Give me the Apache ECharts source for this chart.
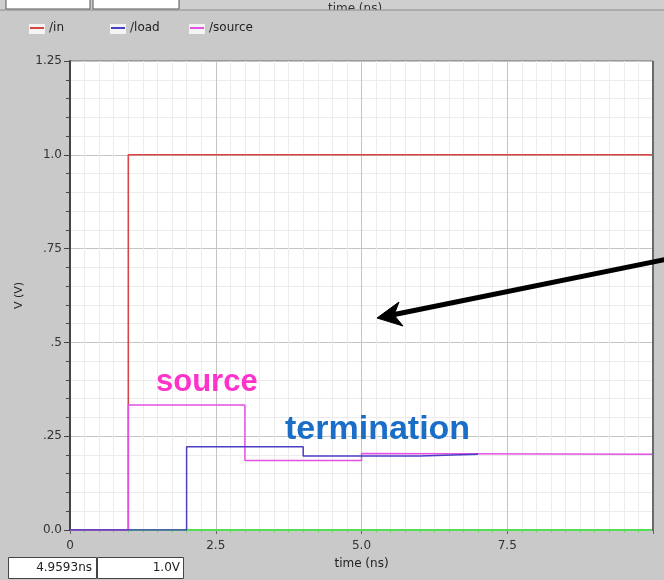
<!DOCTYPE html>
<html>
<head>
<meta charset="utf-8">
<script src="https://cdn.jsdelivr.net/npm/echarts@6/dist/echarts.min.js"></script>
<style>html,body{margin:0;padding:0;background:#c9c9c9;}#c{width:664px;height:580px;}</style>
</head>
<body>
<div id="c"></div>
<script>
// Signal data: [time (ns), voltage (V)] step waveforms
const inData = [[0, 0], [1.0, 0], [1.0, 1.0], [10, 1.0]];
const loadData = [[0, 0], [2.0, 0], [2.0, 0.222], [4.0, 0.222], [4.0, 0.197], [6.0, 0.197], [6.0, 0.202], [7.0, 0.202]];
const sourceData = [[0, 0], [1.0, 0], [1.0, 0.333], [3.0, 0.333], [3.0, 0.185], [5.0, 0.185], [5.0, 0.204], [10, 0.202]];
const groundData = [[0, 0], [10, 0]];
const seriesNames = ['/in', '/load', '/source'];
const yTicks = {0: '0.0', 0.25: '.25', 0.5: '.5', 0.75: '.75', 1: '1.0', 1.25: '1.25'};
const xTicks = {0: '0', 2.5: '2.5', 5: '5.0', 7.5: '7.5'};

const chart = echarts.init(document.getElementById('c'));
const font = 'DejaVu Sans';
const legendLefts = [30, 111, 190];
chart.setOption({
  backgroundColor: '#c9c9c9',
  animation: false,
  grid: {left: 70, right: 11, top: 61, bottom: 50, show: true, backgroundColor: '#ffffff', borderColor: '#6a6a6a', borderWidth: 1},
  legend: seriesNames.map((n, i) => ({
    left: legendLefts[i] - 5, top: 17, itemWidth: 14, itemHeight: 2, itemGap: 0,
    data: [{name: n, icon: 'rect'}],
    textStyle: {fontFamily: font, fontSize: 12, color: '#222'}
  })),
  xAxis: {
    type: 'value', min: 0, max: 10, interval: 2.5,
    name: 'time (ns)', nameLocation: 'middle', nameGap: 28,
    nameTextStyle: {fontFamily: font, fontSize: 12, color: '#222'},
    axisLine: {show: false},
    axisTick: {show: true, length: 4, lineStyle: {color: '#666'}},
    minorTick: {show: true, splitNumber: 10, length: 3, lineStyle: {color: '#8c8'}},
    axisLabel: {fontFamily: font, fontSize: 12, color: '#333', margin: 10,
      formatter: v => (xTicks[v] !== undefined ? xTicks[v] : '')},
    splitLine: {show: true, lineStyle: {color: '#c4c4c4', width: 1}},
    minorSplitLine: {show: true, lineStyle: {color: '#ececec', width: 1}}
  },
  yAxis: {
    type: 'value', min: 0, max: 1.25, interval: 0.25,
    name: 'V (V)', nameLocation: 'middle', nameGap: 44, nameRotate: 90,
    nameTextStyle: {fontFamily: font, fontSize: 11, color: '#222'},
    axisLine: {show: true, lineStyle: {color: '#444', width: 2}},
    axisTick: {show: true, length: 6, lineStyle: {color: '#444'}},
    minorTick: {show: true, splitNumber: 5, length: 4, lineStyle: {color: '#444'}},
    axisLabel: {fontFamily: font, fontSize: 12, color: '#333', margin: 8,
      formatter: v => (yTicks[v] !== undefined ? yTicks[v] : '')},
    splitLine: {show: true, lineStyle: {color: '#c4c4c4', width: 1}},
    minorSplitLine: {show: true, lineStyle: {color: '#ececec', width: 1}}
  },
  series: [
    {name: 'ground', type: 'line', data: groundData, showSymbol: false, lineStyle: {color: '#55dd55', width: 2}, z: 1},
    {name: '/in', type: 'line', data: inData, showSymbol: false, color: '#d94444', lineStyle: {color: '#d94444', width: 1.6}, z: 2},
    {name: '/source', type: 'line', data: sourceData, showSymbol: false, color: '#e452e4', lineStyle: {color: '#e452e4', width: 1.5}, z: 3},
    {name: '/load', type: 'line', data: loadData, showSymbol: false, color: '#4a3fc4', lineStyle: {color: '#4a3fc4', width: 1.5}, z: 4}
  ],
  graphic: [
    // legend icon backgrounds
    ...legendLefts.map(x => ({type: 'rect', shape: {x: x - 1, y: 24, width: 16, height: 10}, style: {fill: '#f4f4f4'}, z: 0})),
    // top cut-off strip
    {type: 'rect', shape: {x: 0, y: 0, width: 664, height: 10}, style: {fill: '#cfcfcf'}, z: 10},
    {type: 'rect', shape: {x: 6, y: -10, width: 84, height: 19}, style: {fill: '#ffffff', stroke: '#555', lineWidth: 1}, z: 11},
    {type: 'rect', shape: {x: 93, y: -10, width: 86, height: 19}, style: {fill: '#ffffff', stroke: '#555', lineWidth: 1}, z: 11},
    {type: 'text', x: 355, y: 9, style: {text: 'time (ns)', font: '12px "DejaVu Sans"', fill: '#333', align: 'center', verticalAlign: 'middle'}, z: 11},
    {type: 'rect', shape: {x: 0, y: 10, width: 664, height: 5}, style: {fill: '#c9c9c9'}, z: 12},
    {type: 'line', shape: {x1: 0, y1: 10, x2: 664, y2: 10}, style: {stroke: '#8a8a8a', lineWidth: 1}, z: 13},
    // right edge of plot darker
    {type: 'line', shape: {x1: 653, y1: 61, x2: 653, y2: 531}, style: {stroke: '#6a6a6a', lineWidth: 2}, z: 12},
    // bottom readout boxes
    {type: 'rect', shape: {x: 8.5, y: 557.5, width: 88, height: 21}, style: {fill: '#ffffff', stroke: '#444', lineWidth: 1}, z: 11},
    {type: 'rect', shape: {x: 97.5, y: 557.5, width: 86, height: 21}, style: {fill: '#ffffff', stroke: '#444', lineWidth: 1}, z: 11},
    {type: 'text', x: 92, y: 568, style: {text: '4.9593ns', font: '12px "DejaVu Sans"', fill: '#222', align: 'right', verticalAlign: 'middle'}, z: 12},
    {type: 'text', x: 180, y: 568, style: {text: '1.0V', font: '12px "DejaVu Sans"', fill: '#222', align: 'right', verticalAlign: 'middle'}, z: 12},
    // annotations
    {type: 'text', x: 156, y: 382, style: {text: 'source', font: 'bold 31px "Liberation Sans"', fill: '#ff33cc', align: 'left', verticalAlign: 'middle'}, z: 20},
    {type: 'text', x: 285, y: 430, style: {text: 'termination', font: 'bold 34px "Liberation Sans"', fill: '#1a6ec8', align: 'left', verticalAlign: 'middle'}, z: 20},
    {type: 'line', shape: {x1: 668, y1: 259, x2: 392, y2: 315}, style: {stroke: '#000', lineWidth: 5}, z: 20},
    {type: 'polygon', shape: {points: [[377, 318], [399, 302], [394, 315], [403, 326]]}, style: {fill: '#000', stroke: '#000', lineWidth: 1}, z: 21}
  ]
});
</script>
</body>
</html>
